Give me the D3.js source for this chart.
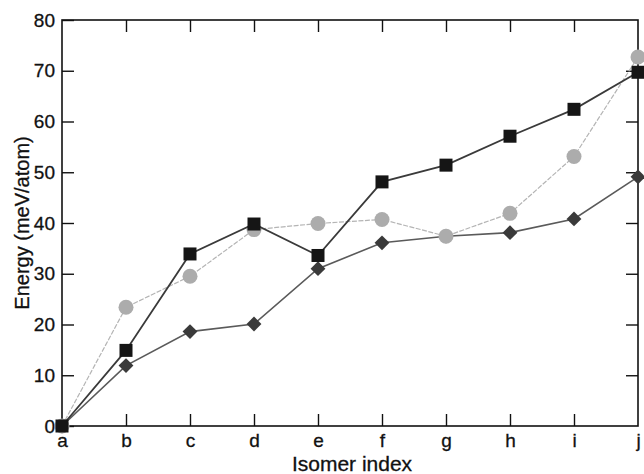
<!DOCTYPE html>
<html>
<head>
<meta charset="utf-8">
<script src="https://cdn.jsdelivr.net/npm/d3@7"></script>
<style>
  body { margin: 0; background: #fff; }
  text { font-family: "Liberation Sans", Arial, Helvetica, sans-serif; }
</style>
</head>
<body>
<div id="chart"></div>
<script>
// isomer labels and energies (meV/atom)
var isomers = ["a", "b", "c", "d", "e", "f", "g", "h", "i", "j"];
var squareVals = [0, 14.9, 33.9, 39.8, 33.6, 48.1, 51.4, 57.1, 62.4, 69.7];
var circleVals = [0, 23.4, 29.5, 38.7, 39.9, 40.7, 37.4, 41.9, 53.1, 72.7];
var diamondVals = [0, 11.9, 18.6, 20.1, 31.0, 36.1, 37.4, 38.1, 40.8, 49.1];
var yTicks = [0, 10, 20, 30, 40, 50, 60, 70, 80];

var margin = { top: 20, right: 6, bottom: 48, left: 62 };
var width = 644 - margin.left - margin.right;
var height = 474 - margin.top - margin.bottom;

var svg = d3.select("#chart")
  .append("svg")
  .attr("width", 644)
  .attr("height", 474)
  .append("g")
  .attr("transform", "translate(" + margin.left + "," + margin.top + ")");

var x = d3.scalePoint().domain(isomers).range([0, width]);
var y = d3.scaleLinear().domain([0, 80]).range([height, 0]);

// axes with inward ticks
var inner = isomers.slice(1, -1);
var innerY = yTicks.slice(1, -1);

var bottom = svg.append("g")
  .attr("transform", "translate(0," + height + ")")
  .call(d3.axisBottom(x).tickSizeInner(-12).tickSizeOuter(0).tickPadding(8));
bottom.selectAll(".tick line").filter(function(d) { return inner.indexOf(d) < 0; }).remove();

svg.append("g")
  .call(d3.axisTop(x).tickValues(inner).tickSizeInner(-12).tickSizeOuter(0).tickFormat(""));

svg.append("g")
  .call(d3.axisLeft(y).tickValues(yTicks).tickSizeInner(-12).tickSizeOuter(0).tickPadding(7));

svg.append("g")
  .attr("transform", "translate(" + width + ",0)")
  .call(d3.axisRight(y).tickValues(innerY).tickSizeInner(-12).tickSizeOuter(0).tickFormat(""));

svg.selectAll(".tick text")
  .style("font-size", "19px")
  .attr("fill", "#111")
  .attr("stroke", "#111")
  .attr("stroke-width", 0.3);
svg.selectAll(".tick line").attr("stroke", "#111").attr("stroke-width", 1.4);
svg.selectAll(".domain").remove();

// frame
svg.append("rect")
  .attr("width", width)
  .attr("height", height)
  .attr("fill", "none")
  .attr("stroke", "#111")
  .attr("stroke-width", 1.6);

var line = d3.line()
  .x(function(d, i) { return x(isomers[i]); })
  .y(function(d) { return y(d); });

// diamonds
svg.append("path")
  .datum(diamondVals)
  .attr("fill", "none")
  .attr("stroke", "#5a5a5a")
  .attr("stroke-width", 1.6)
  .attr("d", line);
svg.selectAll(".diamond")
  .data(diamondVals)
  .enter()
  .append("path")
  .attr("class", "diamond")
  .attr("d", d3.symbol().type(d3.symbolSquare).size(110))
  .attr("transform", function(d, i) { return "translate(" + x(isomers[i]) + "," + y(d) + ") rotate(45)"; })
  .attr("fill", "#3a3a3a");

// circles
svg.append("path")
  .datum(circleVals)
  .attr("fill", "none")
  .attr("stroke", "#b4b4b4")
  .attr("stroke-width", 1.2)
  .attr("stroke-dasharray", "5,1.5")
  .attr("d", line);
svg.selectAll(".circle")
  .data(circleVals)
  .enter()
  .append("circle")
  .attr("class", "circle")
  .attr("cx", function(d, i) { return x(isomers[i]); })
  .attr("cy", function(d) { return y(d); })
  .attr("r", 7.5)
  .attr("fill", "#acacac");

// squares
svg.append("path")
  .datum(squareVals)
  .attr("fill", "none")
  .attr("stroke", "#3a3a3a")
  .attr("stroke-width", 1.8)
  .attr("d", line);
svg.selectAll(".square")
  .data(squareVals)
  .enter()
  .append("rect")
  .attr("class", "square")
  .attr("x", function(d, i) { return x(isomers[i]) - 6.5; })
  .attr("y", function(d) { return y(d) - 6.5; })
  .attr("width", 13)
  .attr("height", 13)
  .attr("fill", "#151515");

// axis titles
svg.append("text")
  .attr("x", width / 2 + 2)
  .attr("y", height + 45)
  .attr("text-anchor", "middle")
  .style("font-size", "21px")
  .attr("fill", "#111")
  .attr("stroke", "#111")
  .attr("stroke-width", 0.3)
  .text("Isomer index");

svg.append("text")
  .attr("transform", "translate(" + (-33) + "," + (height / 2) + ") rotate(-90)")
  .attr("text-anchor", "middle")
  .style("font-size", "20px")
  .attr("fill", "#111")
  .attr("stroke", "#111")
  .attr("stroke-width", 0.3)
  .text("Energy (meV/atom)");
</script>
</body>
</html>
